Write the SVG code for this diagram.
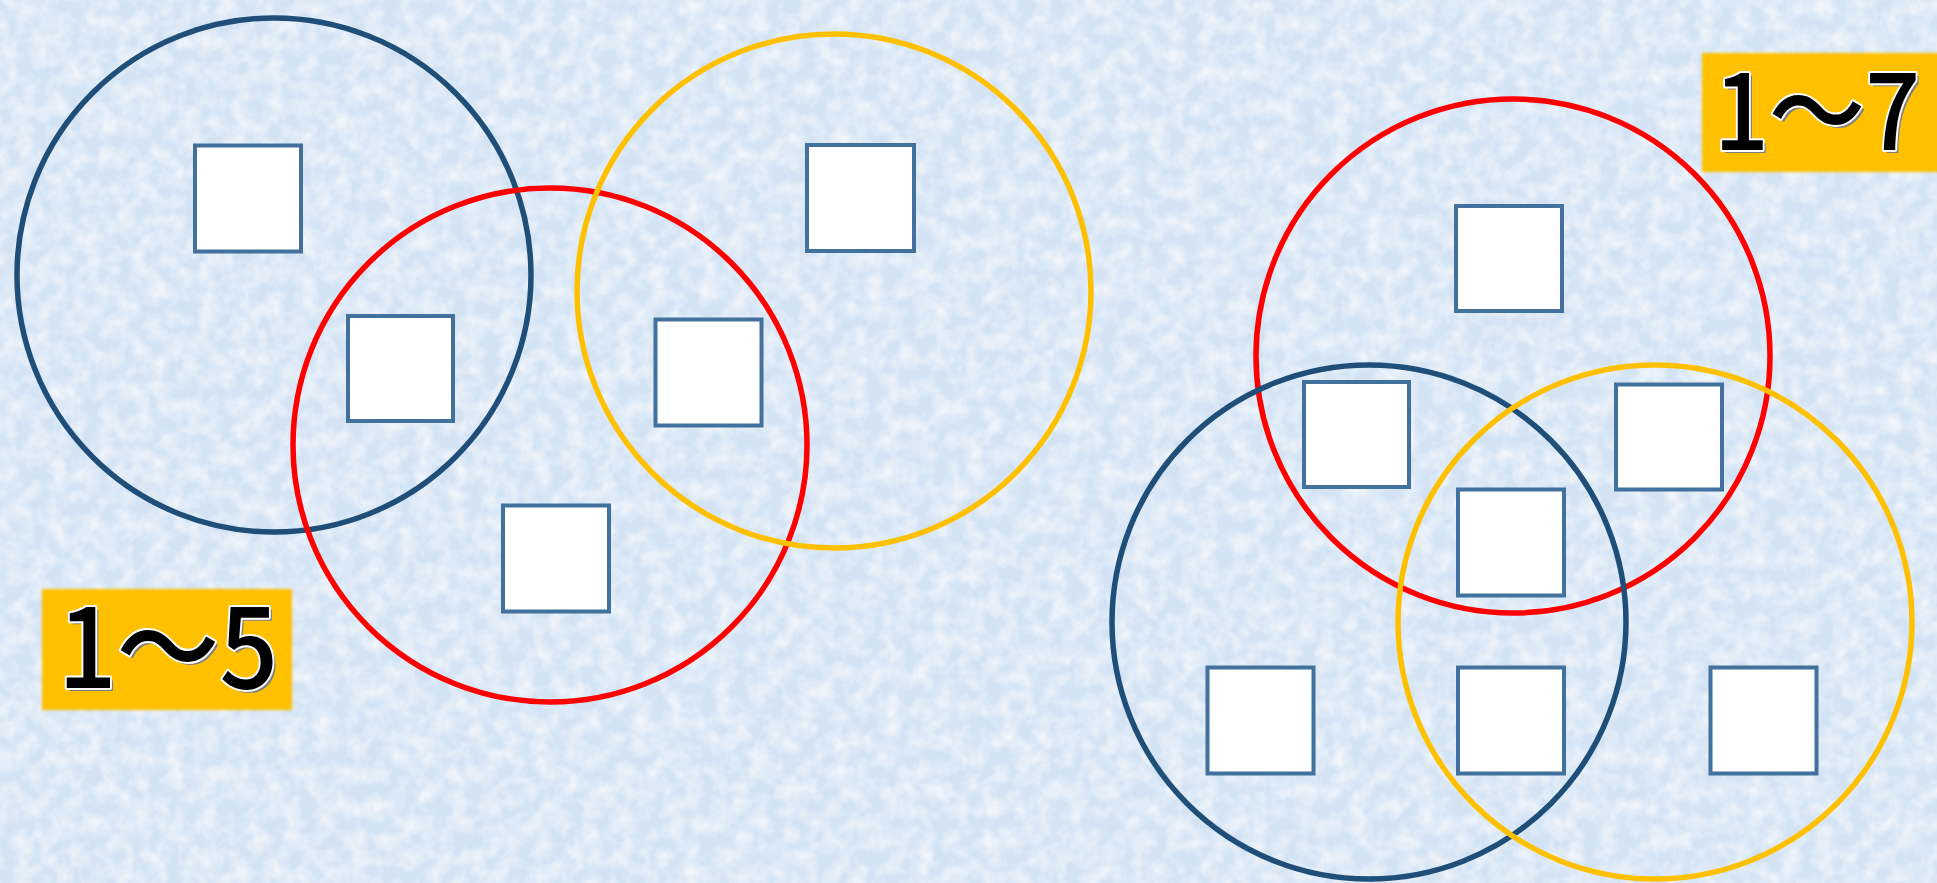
<svg xmlns="http://www.w3.org/2000/svg" width="1937" height="883" viewBox="0 0 1937 883">
  <defs>
    <filter id="tex" x="0" y="0" width="100%" height="100%">
      <feTurbulence type="fractalNoise" baseFrequency="0.06" numOctaves="3" seed="7" result="n"/>
      <feColorMatrix in="n" type="matrix" values="0 0 0 0 1  0 0 0 0 1  0 0 0 0 1  0 0 0 1.2 -0.4" result="w"/>
      <feComposite in="w" in2="SourceGraphic" operator="over"/>
    </filter>
    <filter id="soft" x="-5%" y="-5%" width="110%" height="110%">
      <feGaussianBlur stdDeviation="1.5"/>
    </filter>
    <style>
      .c { fill: none; stroke-width: 5.5; }
      .blue { stroke: #1F4E79; }
      .red { stroke: #FF0000; }
      .yel { stroke: #FFC000; }
      .sq { fill: #FFFFFF; stroke: #41719C; stroke-width: 4; }
      .lbl { fill: #FFC000; filter: url(#soft); }
      .t { font-family: "Noto Sans CJK JP", "Noto Sans", sans-serif; font-size: 110px; font-weight: 500; text-anchor: middle; }
      .t2 { font-size: 104px; }
      .sh { fill: #7F7F7F; }
      .fg { fill: #000000; stroke: #FFFFFF; stroke-width: 4; paint-order: stroke; stroke-linejoin: round; }
    </style>
  </defs>

  <rect x="0" y="0" width="1937" height="883" fill="#D3E3F4" filter="url(#tex)"/>

  <g id="left-set">
    <circle id="left-blue" class="c blue" cx="274" cy="275" r="257"/>
    <circle id="left-red" class="c red" cx="550" cy="445" r="257"/>
    <circle id="left-yellow" class="c yel" cx="834" cy="291" r="257"/>
  </g>

  <g id="right-set">
    <circle id="right-red" class="c red" cx="1513" cy="356" r="257"/>
    <circle id="right-blue" class="c blue" cx="1369" cy="622" r="257"/>
    <circle id="right-yellow" class="c yel" cx="1655" cy="622" r="257"/>
  </g>

  <g id="box-l1"><rect class="sq" x="195" y="145.5" width="106" height="106"/></g>
  <g id="box-l2"><rect class="sq" x="348" y="316" width="105" height="105"/></g>
  <g id="box-l3"><rect class="sq" x="807" y="145" width="107" height="106"/></g>
  <g id="box-l4"><rect class="sq" x="655.5" y="319.5" width="106" height="106"/></g>
  <g id="box-l5"><rect class="sq" x="503" y="505.5" width="106" height="106"/></g>

  <g id="box-r1"><rect class="sq" x="1456" y="206" width="106" height="105"/></g>
  <g id="box-r2"><rect class="sq" x="1304" y="382" width="105" height="105"/></g>
  <g id="box-r3"><rect class="sq" x="1616" y="384.5" width="106" height="105"/></g>
  <g id="box-r4"><rect class="sq" x="1458" y="489.5" width="106" height="106"/></g>
  <g id="box-r5"><rect class="sq" x="1207.5" y="667.5" width="106" height="106"/></g>
  <g id="box-r6"><rect class="sq" x="1458" y="667.5" width="106" height="106"/></g>
  <g id="box-r7"><rect class="sq" x="1710.5" y="667.5" width="106" height="106"/></g>

  <g id="label-1-5">
    <rect class="lbl" x="42" y="589" width="250" height="121"/>
    <text class="t sh" x="171" y="691" textLength="220" lengthAdjust="spacingAndGlyphs">1～5</text>
    <text class="t fg" x="168" y="688" textLength="220" lengthAdjust="spacingAndGlyphs">1～5</text>
  </g>

  <g id="label-1-7">
    <rect class="lbl" x="1702" y="53" width="240" height="119"/>
    <text class="t t2 sh" x="1820" y="153" textLength="206" lengthAdjust="spacingAndGlyphs">1～7</text>
    <text class="t t2 fg" x="1817" y="150" textLength="206" lengthAdjust="spacingAndGlyphs">1～7</text>
  </g>
</svg>
